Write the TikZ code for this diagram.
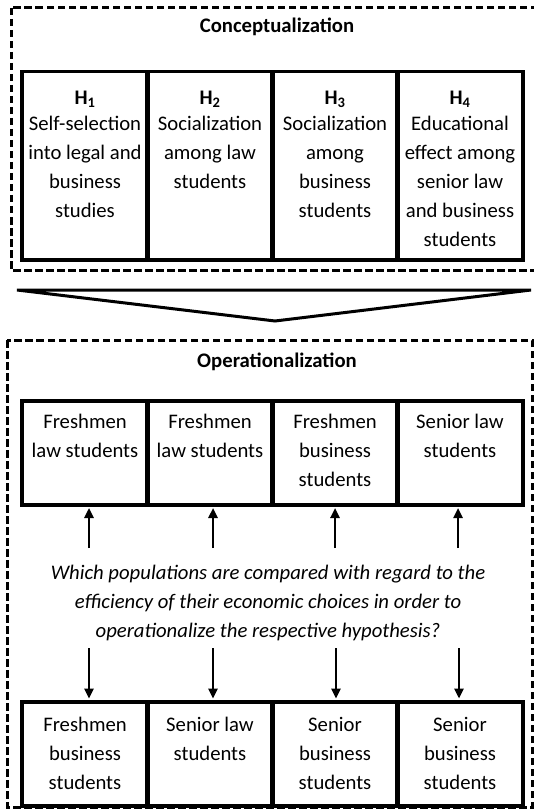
\documentclass[tikz,border=0pt]{standalone}
\usepackage{fontspec}
\setmainfont{Carlito}
\usetikzlibrary{arrows.meta}
\begin{document}
\begin{tikzpicture}[x=1pt,y=-1pt,
  dashbox/.style={draw, line width=3pt, dash pattern=on 7.5pt off 3.5pt},
  cbox/.style={draw, line width=3.5pt, minimum width=126pt, inner sep=0pt, anchor=north},
  txt/.style={align=center, font=\fontsize{20.7}{29}\selectfont, inner sep=0pt, anchor=north},
  qtxt/.style={align=center, font=\fontsize{20.7}{29}\selectfont\itshape, inner sep=0pt, anchor=north},
  ttl/.style={font=\fontsize{20.7}{29}\selectfont\bfseries, inner sep=0pt},
  arr/.style={line width=2.4pt, -{Triangle[length=10pt,width=9pt]}, shorten >=1.5pt},
]
\clip (0,0) rectangle (534,810);
% conceptualization
\draw[dashbox] (11,8) rectangle (546,270);
\node[ttl] (ct) at (277,27) {Conceptualization};
\node[cbox, minimum height=188pt] (h1) at (85,70) {};
\node[cbox, minimum height=188pt] (h2) at (210,70) {};
\node[cbox, minimum height=188pt] (h3) at (335,70) {};
\node[cbox, minimum height=188pt] (h4) at (460,70) {};
\node[txt] (t1) at (85,83.7) {\strut\textbf{H\textsubscript{1}}\\[-3pt]Self-selection\\into legal and\\business\\studies};
\node[txt] (t2) at (210,83.7) {\strut\textbf{H\textsubscript{2}}\\[-3pt]Socialization\\among law\\students};
\node[txt] (t3) at (335,83.7) {\strut\textbf{H\textsubscript{3}}\\[-3pt]Socialization\\among\\business\\students};
\node[txt] (t4) at (460,83.7) {\strut\textbf{H\textsubscript{4}}\\[-3pt]Educational\\effect among\\senior law\\and business\\students};
% chevron
\draw[line width=3pt] (17,290) -- (531,290) -- (275,321) -- cycle;
% operationalization
\draw[dashbox] (7,340) rectangle (532,807);
\node[ttl] (ot) at (277,362) {Operationalization};
\node[cbox, minimum height=104pt] (o1) at (85,399) {};
\node[cbox, minimum height=104pt] (o2) at (210,399) {};
\node[cbox, minimum height=104pt] (o3) at (335,399) {};
\node[cbox, minimum height=104pt] (o4) at (460,399) {};
\node[txt] (ot1) at (85,407.7) {\strut Freshmen\\law students};
\node[txt] (ot2) at (210,407.7) {\strut Freshmen\\law students};
\node[txt] (ot3) at (335,407.7) {\strut Freshmen\\business\\students};
\node[txt] (ot4) at (460,407.7) {\strut Senior law\\students};
\node[qtxt] (q) at (268,558.7) {\strut Which populations are compared with regard to the\\efficiency of their economic choices in order to\\operationalize the respective hypothesis?};
\node[cbox, minimum height=104pt] (b1) at (85,700) {};
\node[cbox, minimum height=104pt] (b2) at (210,700) {};
\node[cbox, minimum height=104pt] (b3) at (335,700) {};
\node[cbox, minimum height=104pt] (b4) at (460,700) {};
\node[txt] (bt1) at (85,710.7) {\strut Freshmen\\business\\students};
\node[txt] (bt2) at (210,710.7) {\strut Senior law\\students};
\node[txt] (bt3) at (335,710.7) {\strut Senior\\business\\students};
\node[txt] (bt4) at (460,710.7) {\strut Senior\\business\\students};
% arrows
\coordinate (u1) at (89,548); \coordinate (u2) at (213,548);
\coordinate (u3) at (335,548); \coordinate (u4) at (458,548);
\coordinate (d1) at (89,648); \coordinate (d2) at (213,648);
\coordinate (d3) at (336,648); \coordinate (d4) at (459,648);
\draw[arr] (u1) -- (u1 |- o1.south);
\draw[arr] (u2) -- (u2 |- o2.south);
\draw[arr] (u3) -- (u3 |- o3.south);
\draw[arr] (u4) -- (u4 |- o4.south);
\draw[arr] (d1) -- (d1 |- b1.north);
\draw[arr] (d2) -- (d2 |- b2.north);
\draw[arr] (d3) -- (d3 |- b3.north);
\draw[arr] (d4) -- (d4 |- b4.north);
\end{tikzpicture}
\end{document}
